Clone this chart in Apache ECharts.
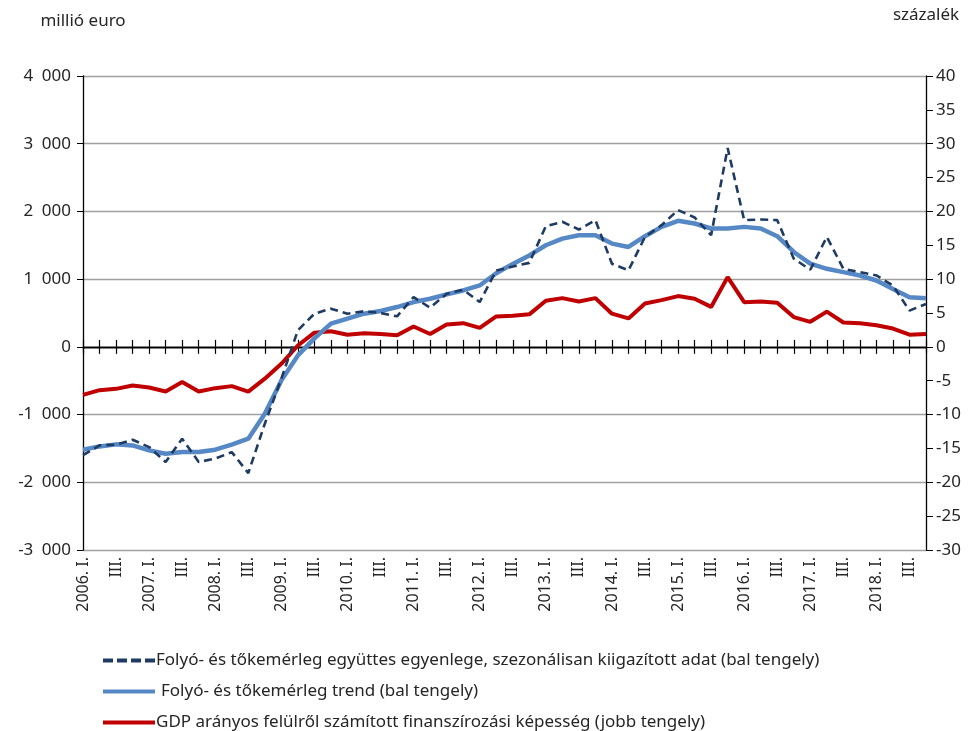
<!DOCTYPE html>
<html>
<head>
<meta charset="utf-8">
<script src="https://cdn.jsdelivr.net/npm/echarts@6/dist/echarts.min.js"></script>
<style>
  html, body { margin: 0; padding: 0; background: #fff; }
  #chart { width: 974px; height: 731px; }
</style>
</head>
<body>
<div id="chart"></div>
<script>
// 2006 Q1 .. 2018 Q4
const years = [2006, 2007, 2008, 2009, 2010, 2011, 2012, 2013, 2014, 2015, 2016, 2017, 2018];
const quarterNames = ["I.", "II.", "III.", "IV."];

// seasonally adjusted current + capital account balance (million EUR, left axis)
const seasonal = [
  -1600, -1455, -1445, -1371, -1480, -1700, -1356, -1700, -1651, -1554, -1864, -1135,
  -470, 244, 490, 564, 490, 525, 500, 451, 735, 578, 784, 843,
  662, 1127, 1186, 1240, 1782, 1847, 1733, 1871, 1228, 1129, 1624, 1797,
  2020, 1911, 1649, 2936, 1871, 1881, 1871, 1302, 1139, 1624, 1153, 1104,
  1054, 906, 535, 634
];

// trend (million EUR, left axis)
const trend = [
  -1519, -1470, -1440, -1455, -1529, -1578, -1554, -1554, -1519, -1445, -1356, -987,
  -495, -126, 125, 343, 417, 490, 529, 588, 662, 711, 775, 833,
  907, 1088, 1225, 1350, 1500, 1599, 1649, 1649, 1525, 1475, 1634, 1772,
  1861, 1822, 1748, 1748, 1772, 1748, 1634, 1401, 1228, 1153, 1104, 1054,
  980, 856, 733, 718
];

// net lending from above, % of GDP (right axis)
const lending = [
  -7.1, -6.4, -6.2, -5.7, -6.0, -6.6, -5.2, -6.6, -6.1, -5.8, -6.6, -4.7,
  -2.5, 0.2, 2.1, 2.3, 1.8, 2.0, 1.9, 1.7, 3.0, 1.9, 3.3, 3.5,
  2.8, 4.5, 4.6, 4.8, 6.8, 7.2, 6.7, 7.2, 4.9, 4.2, 6.4, 6.9,
  7.5, 7.1, 5.9, 10.3, 6.6, 6.7, 6.5, 4.4, 3.7, 5.2, 3.6, 3.5,
  3.2, 2.7, 1.8, 1.9
];

const seriesNames = [
  "Folyó- és tőkemérleg együttes egyenlege, szezonálisan kiigazított adat (bal tengely)",
  "Folyó- és tőkemérleg trend (bal tengely)",
  "GDP arányos felülről számított finanszírozási képesség (jobb tengely)"
];

const categories = [];
years.forEach((y) => {
  quarterNames.forEach((q, i) => {
    categories.push(i === 0 ? y + ". " + q : q);
  });
});

const fontFamily = "Noto Sans";
const textColor = "#262626";

const thousands = (v) => {
  const s = String(Math.abs(v)).replace(/\B(?=(\d{3})+(?!\d))/g, "\u2002");
  return (v < 0 ? "-" : "") + s;
};

const dashIcon = "path://M0,0h10v4h-10zM14,0h10v4h-10zM28,0h10v4h-10zM42,0h10v4h-10z";

// one legend per row so the rows sit where the reference has them
const legendRow = (name, top, icon, textLeftPad) => ({
  orient: "vertical",
  left: 98,
  top: top,
  itemWidth: 52,
  itemHeight: 4,
  icon: icon,
  textStyle: { fontSize: 17, color: textColor, fontFamily: fontFamily, padding: [0, 0, 0, textLeftPad] },
  data: [name],
});

const chart = echarts.init(document.getElementById("chart"));

const baseXAxis = {
  type: "category",
  data: categories,
  boundaryGap: false,
  gridIndex: 0,
  splitLine: { show: false },
};

chart.setOption({
  animation: false,
  backgroundColor: "#fff",
  textStyle: { fontFamily: fontFamily },
  grid: { left: 83, right: 48, top: 76, bottom: 181, containLabel: false },
  legend: [
    legendRow(seriesNames[0], 647, dashIcon, -4),
    legendRow(seriesNames[1], 678, "rect", 1),
    legendRow(seriesNames[2], 709, "rect", -4),
  ],
  xAxis: [
    // zero line with ticks pointing down
    Object.assign({}, baseXAxis, {
      position: "bottom",
      axisLine: { onZero: true, lineStyle: { color: "#000", width: 1.3 } },
      axisTick: { show: true, interval: 0, length: 7, lineStyle: { color: "#000", width: 1.2 } },
      axisLabel: { show: false },
    }),
    // ticks pointing up
    Object.assign({}, baseXAxis, {
      position: "bottom",
      axisLine: { onZero: true, lineStyle: { color: "#000", width: 1.3 } },
      axisTick: { show: true, inside: true, interval: 0, length: 7, lineStyle: { color: "#000", width: 1.2 } },
      axisLabel: { show: false },
    }),
    // labels at the bottom
    Object.assign({}, baseXAxis, {
      position: "bottom",
      axisLine: { show: false, onZero: false },
      axisTick: { show: false },
      axisLabel: {
        interval: 1,
        rotate: 90,
        margin: 7,
        fontSize: 16,
        color: textColor,
        fontFamily: fontFamily,
      },
    }),
  ],
  yAxis: [
    {
      type: "value",
      position: "left",
      min: -3000,
      max: 4000,
      interval: 1000,
      name: "millió euro",
      nameLocation: "end",
      nameGap: 46,
      nameTextStyle: { fontSize: 17, color: textColor, fontFamily: fontFamily },
      axisLine: { show: true, lineStyle: { color: "#000", width: 1.3 } },
      axisTick: { show: true, length: 6, lineStyle: { color: "#000" } },
      axisLabel: { fontSize: 17, color: textColor, margin: 12, fontFamily: fontFamily, formatter: thousands },
      splitLine: { show: true, lineStyle: { color: "#a0a0a0", width: 1.3 } },
    },
    {
      type: "value",
      position: "right",
      min: -30,
      max: 40,
      interval: 5,
      name: "százalék",
      nameLocation: "end",
      nameGap: 52,
      nameTextStyle: { fontSize: 17, color: textColor, fontFamily: fontFamily },
      axisLine: { show: true, lineStyle: { color: "#000", width: 1.3 } },
      axisTick: { show: true, length: 7, lineStyle: { color: "#000" } },
      axisLabel: { fontSize: 17, color: textColor, margin: 10, fontFamily: fontFamily },
      splitLine: { show: false },
    },
  ],
  series: [
    {
      name: seriesNames[2],
      type: "line",
      xAxisIndex: 0,
      yAxisIndex: 1,
      data: lending,
      showSymbol: false,
      symbol: "none",
      lineStyle: { color: "#c00000", width: 4 },
      itemStyle: { color: "#c00000" },
      z: 3,
    },
    {
      name: seriesNames[1],
      type: "line",
      xAxisIndex: 0,
      yAxisIndex: 0,
      data: trend,
      showSymbol: false,
      symbol: "none",
      lineStyle: { color: "#5588c4", width: 4.5 },
      itemStyle: { color: "#5588c4" },
      z: 4,
    },
    {
      name: seriesNames[0],
      type: "line",
      xAxisIndex: 0,
      yAxisIndex: 0,
      data: seasonal,
      showSymbol: false,
      symbol: "none",
      lineStyle: { color: "#1f3b63", width: 2.6, type: [8, 5] },
      itemStyle: { color: "#1f3b63" },
      z: 5,
    },
  ],
});
</script>
</body>
</html>
